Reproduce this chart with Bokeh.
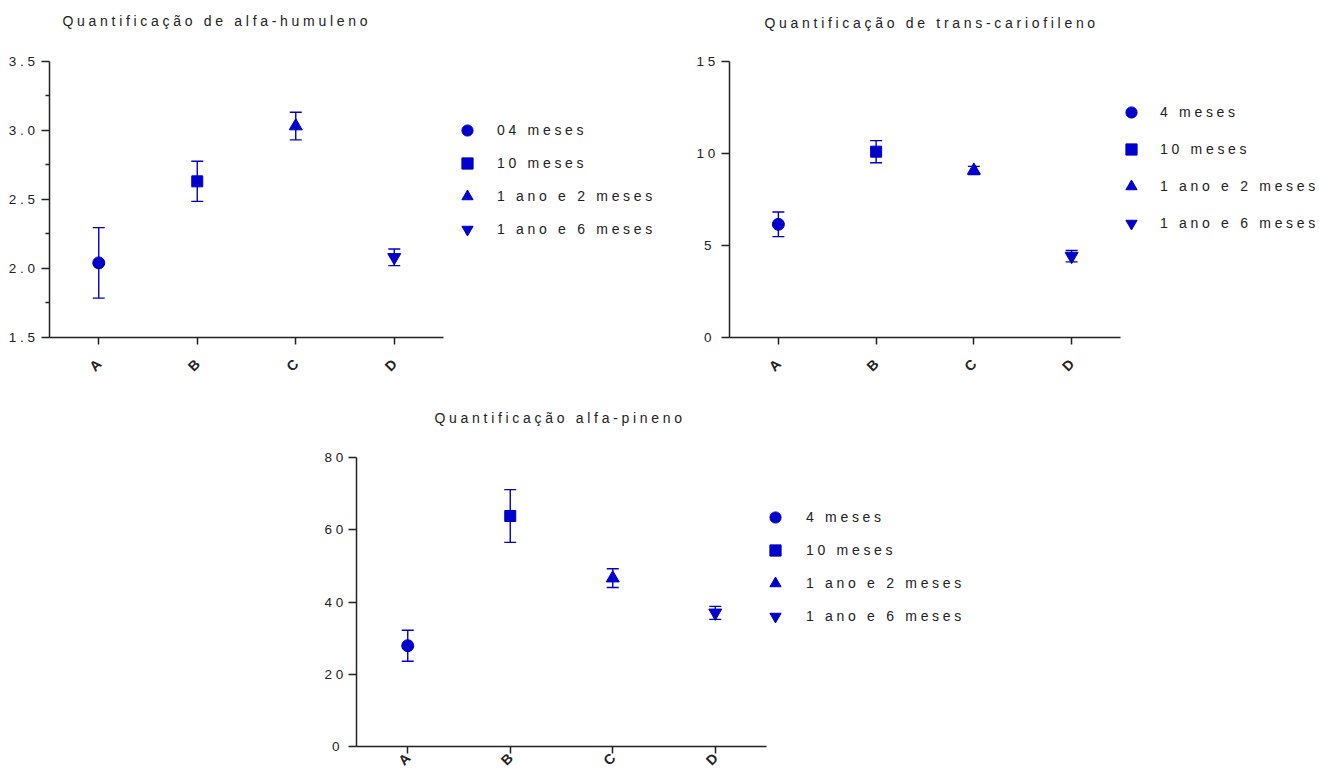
from math import pi
from bokeh.plotting import figure
from bokeh.models import (ColumnDataSource, Range1d, FixedTicker, PrintfTickFormatter,
                          Whisker, Legend, LegendItem, Spacer, Label, InlineStyleSheet)
from bokeh.layouts import row, column
from bokeh.embed import file_html
from bokeh.resources import INLINE

# ---------------- data ----------------
categories = ["A", "B", "C", "D"]
markers = ["circle", "square", "triangle", "inverted_triangle"]

humuleno_title = "Quantificação de alfa-humuleno"
humuleno_labels = ["04 meses", "10 meses", "1 ano e 2 meses", "1 ano e 6 meses"]
humuleno_mean = [2.04, 2.63, 3.03, 2.08]
humuleno_sd = [0.255, 0.145, 0.10, 0.06]
humuleno_ticks = [1.5, 2.0, 2.5, 3.0, 3.5]
humuleno_minor = [1.75, 2.25, 2.75, 3.25]

cario_title = "Quantificação de trans-cariofileno"
cario_labels = ["4 meses", "10 meses", "1 ano e 2 meses", "1 ano e 6 meses"]
cario_mean = [6.15, 10.1, 9.08, 4.42]
cario_sd = [0.67, 0.60, 0.22, 0.31]
cario_ticks = [0, 5, 10, 15]

pineno_title = "Quantificação alfa-pineno"
pineno_labels = ["4 meses", "10 meses", "1 ano e 2 meses", "1 ano e 6 meses"]
pineno_mean = [27.9, 63.8, 46.6, 37.0]
pineno_sd = [4.3, 7.3, 2.6, 1.8]
pineno_ticks = [0, 20, 40, 60, 80]

FONT = "Liberation Sans"
BLUE = "#0000CC"
INK = "#222222"


def make_panel(title, labels, mean, sd, ylim, yticks, yminor, fmt,
               width, height, borders, xview_end, yview_end,
               title_xy, legend_loc, legend_spacing, legend_standoff,
               ylabel_standoff, xlabel_standoff, sizes):
    n = len(categories)
    xpos = [i + 0.5 for i in range(n)]
    p = figure(x_range=Range1d(0, xview_end), y_range=Range1d(ylim[0], yview_end),
               width=width, height=height, output_backend="svg",
               toolbar_location=None, tools="", title=None)
    left, right, top, bottom = borders
    p.min_border_left = left
    p.min_border_right = right
    p.min_border_top = top
    p.min_border_bottom = bottom
    p.outline_line_color = None
    p.xgrid.visible = False
    p.ygrid.visible = False
    p.background_fill_color = "white"
    p.border_fill_color = "white"

    p.add_layout(Label(x=title_xy[0], y=title_xy[1], x_units="screen", y_units="screen",
                       text=title, text_align="left", text_baseline="middle",
                       text_font=FONT, text_font_size="14px", text_color=INK))

    # error bars
    wsrc = ColumnDataSource(dict(
        x=xpos,
        upper=[m + s for m, s in zip(mean, sd)],
        lower=[m - s for m, s in zip(mean, sd)],
    ))
    w = Whisker(base="x", upper="upper", lower="lower", source=wsrc,
                line_color=BLUE, line_width=1.4, level="underlay")
    for head in (w.upper_head, w.lower_head):
        head.size = 12
        head.line_color = BLUE
        head.line_width = 1.4
    p.add_layout(w)

    items = []
    for i in range(n):
        src = ColumnDataSource(dict(x=[xpos[i]], y=[mean[i]]))
        r = p.scatter("x", "y", source=src, marker=markers[i], size=sizes[i],
                      fill_color=BLUE, line_color=BLUE)
        items.append(LegendItem(label=labels[i], renderers=[r]))

    leg = Legend(items=items, location=legend_loc, orientation="vertical",
                 padding=0, margin=0, spacing=legend_spacing,
                 glyph_width=28, glyph_height=28, label_height=28,
                 label_standoff=legend_standoff,
                 border_line_alpha=0, background_fill_alpha=0,
                 label_text_font=FONT, label_text_font_size="14px",
                 label_text_color=INK)
    p.add_layout(leg)

    ya = p.yaxis[0]
    ya.bounds = (ylim[0], ylim[1])
    ya.ticker = FixedTicker(ticks=yticks, minor_ticks=yminor)
    ya.formatter = PrintfTickFormatter(format=fmt)
    ya.axis_line_width = 1.5
    ya.axis_line_color = INK
    ya.major_tick_line_width = 1.5
    ya.major_tick_line_color = INK
    ya.minor_tick_line_width = 1.5
    ya.minor_tick_line_color = INK
    ya.major_tick_out = 8
    ya.major_tick_in = 0
    ya.minor_tick_out = 4
    ya.minor_tick_in = 0
    ya.major_label_standoff = ylabel_standoff
    ya.major_label_text_font = FONT
    ya.major_label_text_font_size = "13.5px"
    ya.major_label_text_color = INK

    xa = p.xaxis[0]
    xa.bounds = (0, n)
    xa.ticker = FixedTicker(ticks=xpos, minor_ticks=[])
    xa.major_label_overrides = {x: c for x, c in zip(xpos, categories)}
    xa.axis_line_width = 1.5
    xa.axis_line_color = INK
    xa.major_tick_line_width = 1.5
    xa.major_tick_line_color = INK
    xa.major_tick_out = 7
    xa.major_tick_in = 0
    xa.minor_tick_line_color = None
    xa.major_label_orientation = pi / 4
    xa.major_label_standoff = xlabel_standoff
    xa.major_label_text_font = FONT
    xa.major_label_text_font_size = "14px"
    xa.major_label_text_font_style = "bold"
    xa.major_label_text_color = INK
    return p


sizes = [12, 11, 13, 13]

# panel 1: frame 49..690 x 0..339 ; data area 394 x 278 px
p1 = make_panel(humuleno_title, humuleno_labels, humuleno_mean, humuleno_sd,
                (1.5, 3.5), humuleno_ticks, humuleno_minor, "%.1f",
                width=690, height=390, borders=(49, 0, 0, 51),
                xview_end=4 * 641 / 394, yview_end=1.5 + 2.0 * 339 / 278,
                title_xy=(13, 317), legend_loc=(404, 94), legend_spacing=5,
                legend_standoff=16, ylabel_standoff=14, xlabel_standoff=17,
                sizes=sizes)

# panel 2: frame 729..1319 x 0..337 ; data area 391 x 276 px
p2 = make_panel(cario_title, cario_labels, cario_mean, cario_sd,
                (0, 15), cario_ticks, [], "%d",
                width=629, height=390, borders=(39, 0, 0, 53),
                xview_end=4 * 590 / 391, yview_end=15 * 337 / 276,
                title_xy=(35, 315), legend_loc=(388, 100), legend_spacing=9,
                legend_standoff=15, ylabel_standoff=10, xlabel_standoff=17,
                sizes=sizes)

# panel 3: frame 356..1000 x 390..746 ; data area 410 x 289 px
p3 = make_panel(pineno_title, pineno_labels, pineno_mean, pineno_sd,
                (0, 80), pineno_ticks, [], "%d",
                width=700, height=387, borders=(56, 0, 0, 31),
                xview_end=4 * 644 / 410, yview_end=80 * 356 / 289,
                title_xy=(78, 329), legend_loc=(405, 116), legend_spacing=5,
                legend_standoff=17, ylabel_standoff=9, xlabel_standoff=2,
                sizes=sizes)

layout = column(row(p1, p2), row(Spacer(width=300, height=387), p3),
                stylesheets=[InlineStyleSheet(css=":host { letter-spacing: 3.7px; }")])

open("out.html", "w").write(file_html(layout, INLINE))
